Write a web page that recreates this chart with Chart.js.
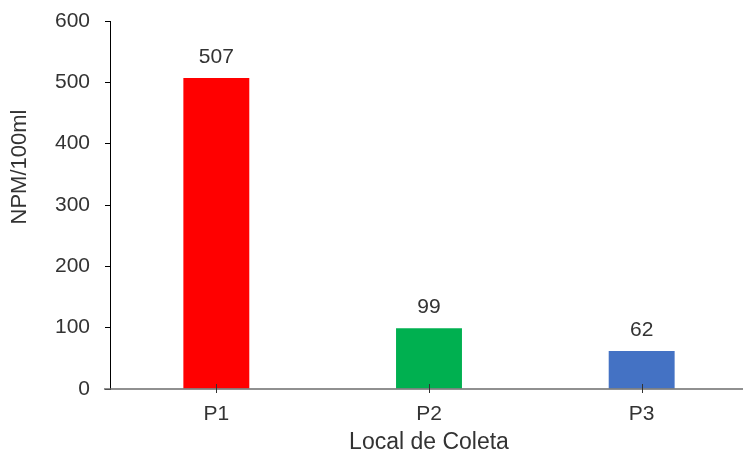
<!DOCTYPE html>
<html>
<head>
<meta charset="utf-8">
<script src="https://cdn.jsdelivr.net/npm/chart.js@4"></script>
<style>
html,body{margin:0;padding:0;background:#fff;overflow:hidden;}
#wrap{width:750px;height:455px;}
</style>
</head>
<body>
<div id="wrap"><canvas id="c" width="750" height="455" style="width:750px;height:455px"></canvas></div>
<script>
const categories = ["P1", "P2", "P3"];
const values = [507, 99, 62];
const barColors = ["#FF0000", "#00B050", "#4472C4"];
const yTicks = [0, 100, 200, 300, 400, 500, 600];
const xTitle = "Local de Coleta";
const yTitle = "NPM/100ml";

const FONT = "'Liberation Sans', Arial, sans-serif";
const TEXT = "#333333";

const extras = {
  id: 'extras',
  afterDatasetsDraw(chart) {
    const ctx = chart.ctx;
    const area = chart.chartArea;
    const xs = chart.scales.x;
    ctx.save();
    ctx.strokeStyle = "#6b6b6b";
    ctx.lineWidth = 1.5;
    ctx.beginPath();
    ctx.moveTo(area.left - 6, area.bottom);
    ctx.lineTo(chart.width, area.bottom);
    ctx.stroke();
    ctx.strokeStyle = "#333";
    ctx.lineWidth = 1;
    categories.forEach((c, i) => {
      const px = Math.round(xs.getPixelForValue(i)) + 0.5;
      ctx.beginPath();
      ctx.moveTo(px, area.bottom - 5);
      ctx.lineTo(px, area.bottom + 4);
      ctx.stroke();
    });
    ctx.fillStyle = TEXT;
    ctx.font = "21px " + FONT;
    ctx.textAlign = "center";
    ctx.textBaseline = "alphabetic";
    const meta = chart.getDatasetMeta(0);
    meta.data.forEach((bar, i) => {
      ctx.fillText(String(values[i]), bar.x, bar.y - 15);
    });
    ctx.font = "23px " + FONT;
    ctx.textBaseline = "middle";
    ctx.fillText(xTitle, (area.left + area.right) / 2, 443);
    ctx.font = "22px " + FONT;
    ctx.translate(20, 167);
    ctx.rotate(-Math.PI / 2);
    ctx.fillText(yTitle, 0, 0);
    ctx.restore();
  }
};

new Chart(document.getElementById('c'), {
  type: 'bar',
  data: {
    labels: categories,
    datasets: [{
      data: values,
      backgroundColor: barColors,
      borderWidth: 0,
      barPercentage: 0.31,
      categoryPercentage: 1.0
    }]
  },
  options: {
    responsive: false,
    animation: false,
    devicePixelRatio: 1,
    layout: { padding: { top: 21, right: 2, left: 0, bottom: 0 } },
    plugins: { legend: { display: false }, tooltip: { enabled: false } },
    scales: {
      x: {
        grid: { display: false, drawTicks: false },
        border: { display: false },
        ticks: { color: TEXT, font: { family: FONT, size: 21 }, padding: 13 },
        afterFit(s) { s.height = 66; s.paddingLeft = 0; s.paddingRight = 0; }
      },
      y: {
        min: 0, max: 600,
        afterBuildTicks(s) { s.ticks = yTicks.map(v => ({ value: v })); },
        grid: { display: true, drawOnChartArea: false, drawTicks: true, tickLength: 5, color: "#000", lineWidth: 1 },
        border: { display: true, color: "#000", width: 1 },
        ticks: { color: TEXT, font: { family: FONT, size: 21 }, padding: 15 },
        afterFit(s) { s.width = 110; s.paddingTop = 0; s.paddingBottom = 0; }
      }
    }
  },
  plugins: [extras]
});
</script>
</body>
</html>
